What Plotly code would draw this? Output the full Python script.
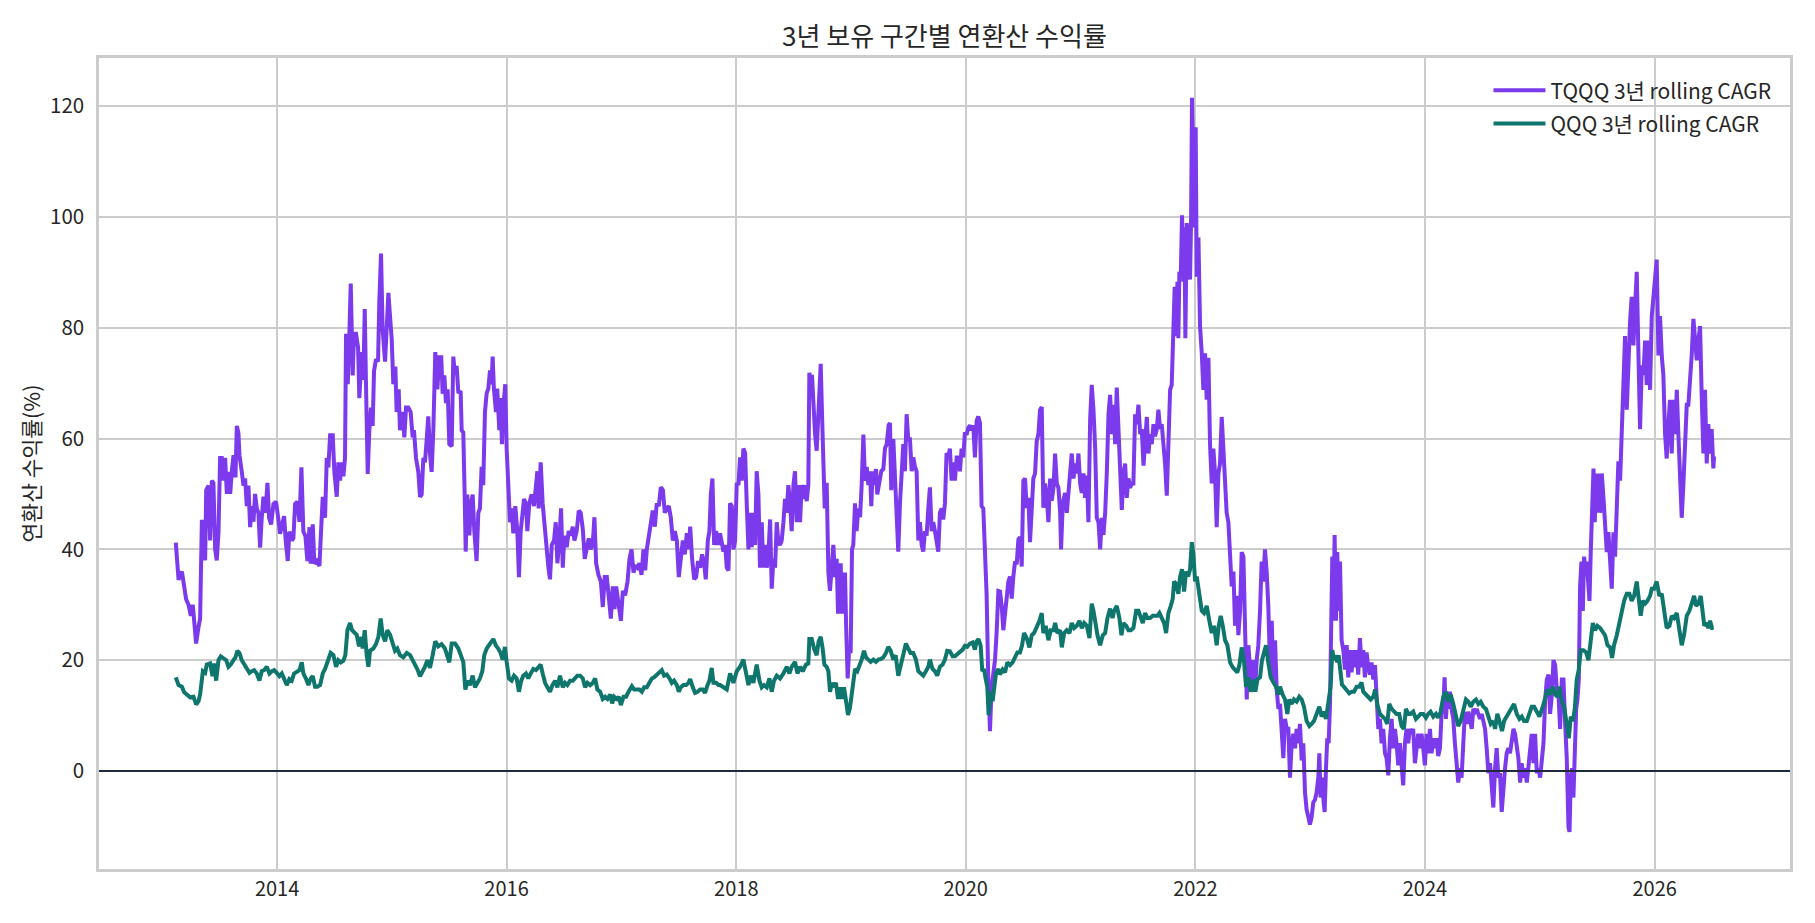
import pandas as pd
import plotly.graph_objects as go

# ---------------- data ----------------
# decimal-year positions and 3-year rolling CAGR (%) values
TQQQ_YEARS = [
    # 2013 - mid 2015
    2013.117, 2013.126, 2013.141, 2013.170, 2013.184, 2013.207, 2013.228, 2013.248, 2013.265, 2013.280,
    2013.294, 2013.315, 2013.329, 2013.344, 2013.358, 2013.373, 2013.382, 2013.402, 2013.416, 2013.431,
    2013.445, 2013.460, 2013.474, 2013.489, 2013.503, 2013.518, 2013.533, 2013.547, 2013.562, 2013.576,
    2013.591, 2013.605, 2013.620, 2013.637, 2013.649, 2013.663, 2013.672, 2013.692, 2013.707, 2013.721,
    2013.736, 2013.750, 2013.765, 2013.779, 2013.794, 2013.808, 2013.823, 2013.837, 2013.852, 2013.866,
    2013.881, 2013.898, 2013.916, 2013.930, 2013.948, 2013.968, 2013.991, 2014.012, 2014.026, 2014.044,
    2014.061, 2014.075, 2014.093, 2014.107, 2014.128, 2014.142, 2014.157, 2014.177, 2014.195, 2014.212,
    2014.229, 2014.247, 2014.264, 2014.282, 2014.293, 2014.311, 2014.325, 2014.346, 2014.369, 2014.383,
    2014.398, 2014.418, 2014.433, 2014.447, 2014.462, 2014.485, 2014.499, 2014.520, 2014.534, 2014.549,
    2014.563, 2014.578, 2014.592, 2014.601, 2014.616, 2014.630, 2014.642, 2014.659, 2014.671, 2014.688,
    2014.706, 2014.717, 2014.738, 2014.752, 2014.764, 2014.775, 2014.790, 2014.804, 2014.819, 2014.833,
    2014.845, 2014.862, 2014.880, 2014.891, 2014.906, 2014.920, 2014.941, 2014.955, 2014.970, 2014.984,
    2014.999, 2015.013, 2015.031, 2015.042, 2015.060, 2015.071, 2015.095, 2015.109, 2015.124, 2015.144,
    2015.164, 2015.182, 2015.193, 2015.211, 2015.231, 2015.246, 2015.260, 2015.275, 2015.289, 2015.304,
    2015.318, 2015.333, 2015.347, 2015.362, 2015.379, 2015.397, 2015.414, 2015.431, 2015.443, 2015.458,
    2015.472, 2015.487, 2015.501,
    # mid 2015 - end 2017
    2015.522, 2015.536, 2015.551, 2015.565, 2015.580, 2015.600, 2015.609, 2015.623, 2015.635, 2015.644,
    2015.658, 2015.676, 2015.690, 2015.705, 2015.719, 2015.739, 2015.754, 2015.768, 2015.783, 2015.797,
    2015.812, 2015.827, 2015.841, 2015.856, 2015.870, 2015.879, 2015.890, 2015.908, 2015.919, 2015.937,
    2015.948, 2015.960, 2015.972, 2015.989, 2016.001, 2016.015, 2016.030, 2016.044, 2016.059, 2016.076,
    2016.094, 2016.108, 2016.123, 2016.140, 2016.152, 2016.169, 2016.181, 2016.198, 2016.218, 2016.239,
    2016.253, 2016.268, 2016.279, 2016.297, 2016.314, 2016.335, 2016.349, 2016.364, 2016.378, 2016.393,
    2016.413, 2016.428, 2016.442, 2016.459, 2016.474, 2016.489, 2016.503, 2016.523, 2016.541, 2016.558,
    2016.576, 2016.590, 2016.610, 2016.628, 2016.645, 2016.663, 2016.680, 2016.698, 2016.715, 2016.732,
    2016.750, 2016.764, 2016.779, 2016.799, 2016.820, 2016.837, 2016.854, 2016.872, 2016.889, 2016.907,
    2016.924, 2016.939, 2016.953, 2016.973, 2016.994, 2017.011, 2017.031, 2017.052, 2017.069, 2017.087,
    2017.104, 2017.122, 2017.139, 2017.156, 2017.174, 2017.191, 2017.206, 2017.220, 2017.238, 2017.255,
    2017.272, 2017.290, 2017.307, 2017.325, 2017.342, 2017.360, 2017.377, 2017.394, 2017.412, 2017.429,
    2017.447, 2017.464, 2017.482, 2017.499, 2017.516, 2017.534, 2017.551, 2017.569, 2017.586, 2017.598,
    2017.615, 2017.633, 2017.650, 2017.667, 2017.685, 2017.702, 2017.720, 2017.734, 2017.752, 2017.766,
    2017.778, 2017.792, 2017.807, 2017.824, 2017.842,
    # end 2017 - Q1 2020
    2017.859, 2017.888, 2017.903, 2017.917, 2017.932, 2017.946, 2017.961, 2017.975, 2017.990, 2018.004,
    2018.019, 2018.033, 2018.048, 2018.062, 2018.077, 2018.091, 2018.106, 2018.120, 2018.135, 2018.149,
    2018.164, 2018.178, 2018.193, 2018.207, 2018.222, 2018.236, 2018.251, 2018.266, 2018.280, 2018.295,
    2018.309, 2018.324, 2018.338, 2018.353, 2018.367, 2018.382, 2018.396, 2018.411, 2018.425, 2018.440,
    2018.454, 2018.469, 2018.483, 2018.498, 2018.512, 2018.527, 2018.541, 2018.556, 2018.570, 2018.585,
    2018.599, 2018.614, 2018.628, 2018.637, 2018.649, 2018.660, 2018.672, 2018.687, 2018.701, 2018.713,
    2018.724, 2018.736, 2018.747, 2018.759, 2018.771, 2018.788, 2018.803, 2018.817, 2018.832, 2018.846,
    2018.861, 2018.875, 2018.887, 2018.898, 2018.910, 2018.922, 2018.933, 2018.948, 2018.957, 2018.971,
    2018.983, 2018.997, 2019.009, 2019.020, 2019.035, 2019.049, 2019.064, 2019.079, 2019.093, 2019.108,
    2019.122, 2019.137, 2019.151, 2019.166, 2019.177, 2019.189, 2019.203, 2019.218, 2019.229, 2019.247,
    2019.264, 2019.282, 2019.296, 2019.311, 2019.328, 2019.340, 2019.351, 2019.369, 2019.383, 2019.398,
    2019.412, 2019.427, 2019.441, 2019.456, 2019.470, 2019.485, 2019.499, 2019.514, 2019.529, 2019.543,
    2019.558, 2019.572, 2019.587, 2019.601, 2019.616, 2019.630, 2019.645, 2019.659, 2019.674, 2019.688,
    2019.703, 2019.717, 2019.732, 2019.746, 2019.761, 2019.775, 2019.790, 2019.804, 2019.819, 2019.833,
    2019.848, 2019.862, 2019.877, 2019.892, 2019.906, 2019.921, 2019.935, 2019.950, 2019.964, 2019.979,
    2019.993, 2020.008, 2020.022, 2020.037, 2020.051, 2020.066, 2020.080, 2020.095, 2020.109, 2020.124,
    2020.138, 2020.153, 2020.167, 2020.182, 2020.196, 2020.211, 2020.225, 2020.240, 2020.255, 2020.269,
    2020.284,
    # Q2 2020 - Q3 2022
    2020.298, 2020.313, 2020.327, 2020.342, 2020.356, 2020.371, 2020.385, 2020.400, 2020.414, 2020.429,
    2020.443, 2020.458, 2020.472, 2020.487, 2020.501, 2020.516, 2020.530, 2020.545, 2020.559, 2020.574,
    2020.588, 2020.603, 2020.617, 2020.632, 2020.646, 2020.661, 2020.675, 2020.690, 2020.705, 2020.719,
    2020.734, 2020.748, 2020.763, 2020.777, 2020.792, 2020.806, 2020.821, 2020.829, 2020.844, 2020.864,
    2020.879, 2020.893, 2020.908, 2020.922, 2020.937, 2020.951, 2020.966, 2020.980, 2020.995, 2021.009,
    2021.024, 2021.038, 2021.053, 2021.067, 2021.082, 2021.096, 2021.111, 2021.126, 2021.140, 2021.155,
    2021.169, 2021.184, 2021.198, 2021.213, 2021.227, 2021.242, 2021.256, 2021.271, 2021.285, 2021.300,
    2021.314, 2021.329, 2021.343, 2021.358, 2021.372, 2021.387, 2021.401, 2021.416, 2021.430, 2021.445,
    2021.459, 2021.474, 2021.488, 2021.503, 2021.518, 2021.532, 2021.547, 2021.561, 2021.576, 2021.590,
    2021.605, 2021.619, 2021.634, 2021.648, 2021.663, 2021.677, 2021.692, 2021.706, 2021.721, 2021.735,
    2021.750, 2021.764, 2021.779, 2021.793, 2021.808, 2021.819, 2021.831, 2021.843, 2021.851, 2021.860,
    2021.872, 2021.883, 2021.895, 2021.904, 2021.912, 2021.924, 2021.939, 2021.953, 2021.962, 2021.970,
    2021.982, 2021.994, 2022.002, 2022.011, 2022.026, 2022.040, 2022.055, 2022.069, 2022.084, 2022.098,
    2022.113, 2022.127, 2022.142, 2022.156, 2022.171, 2022.185, 2022.200, 2022.214, 2022.229, 2022.243,
    2022.258, 2022.272, 2022.287, 2022.302, 2022.316, 2022.331, 2022.345, 2022.360, 2022.374, 2022.389,
    2022.403, 2022.418, 2022.432, 2022.447, 2022.461, 2022.476, 2022.490, 2022.505, 2022.519, 2022.534,
    2022.548, 2022.563, 2022.577, 2022.592, 2022.606, 2022.621, 2022.635, 2022.650, 2022.665, 2022.679,
    2022.694, 2022.708, 2022.723,
    # Q4 2022 - end 2024
    2022.737, 2022.766, 2022.781, 2022.795, 2022.810, 2022.824, 2022.839, 2022.853, 2022.868, 2022.882,
    2022.897, 2022.911, 2022.926, 2022.940, 2022.955, 2022.969, 2022.984, 2022.998, 2023.013, 2023.027,
    2023.042, 2023.056, 2023.071, 2023.080, 2023.091, 2023.103, 2023.114, 2023.126, 2023.138, 2023.149,
    2023.161, 2023.173, 2023.184, 2023.193, 2023.202, 2023.213, 2023.225, 2023.236, 2023.248, 2023.260,
    2023.274, 2023.289, 2023.303, 2023.318, 2023.332, 2023.347, 2023.361, 2023.376, 2023.390, 2023.405,
    2023.419, 2023.434, 2023.448, 2023.463, 2023.477, 2023.492, 2023.506, 2023.521, 2023.535, 2023.550,
    2023.565, 2023.579, 2023.594, 2023.608, 2023.623, 2023.637, 2023.652, 2023.666, 2023.681, 2023.695,
    2023.710, 2023.724, 2023.739, 2023.753, 2023.768, 2023.782, 2023.797, 2023.811, 2023.826, 2023.840,
    2023.855, 2023.869, 2023.884, 2023.898, 2023.913, 2023.927, 2023.942, 2023.957, 2023.971, 2023.986,
    2024.000, 2024.015, 2024.029, 2024.044, 2024.058, 2024.073, 2024.087, 2024.102, 2024.116, 2024.131,
    2024.145, 2024.160, 2024.171, 2024.183, 2024.195, 2024.206, 2024.218, 2024.232, 2024.247, 2024.261,
    2024.276, 2024.290, 2024.305, 2024.319, 2024.334, 2024.348, 2024.363, 2024.378, 2024.392, 2024.407,
    2024.421, 2024.436, 2024.450, 2024.465, 2024.479, 2024.494, 2024.508, 2024.523, 2024.537, 2024.552,
    2024.566, 2024.581, 2024.595, 2024.610, 2024.624, 2024.639, 2024.653, 2024.668, 2024.682, 2024.697,
    2024.711, 2024.726, 2024.740, 2024.755, 2024.770, 2024.784, 2024.799, 2024.813, 2024.828, 2024.842,
    2024.857, 2024.871, 2024.886, 2024.900, 2024.915, 2024.929, 2024.944, 2024.958, 2024.973, 2024.987,
    2025.002,
    # 2025 - 2026
    2025.017, 2025.031, 2025.046, 2025.060, 2025.075, 2025.089, 2025.104, 2025.118, 2025.133, 2025.147,
    2025.162, 2025.176, 2025.191, 2025.205, 2025.220, 2025.234, 2025.249, 2025.258, 2025.269, 2025.281,
    2025.292, 2025.304, 2025.316, 2025.327, 2025.339, 2025.350, 2025.362, 2025.374, 2025.385, 2025.397,
    2025.409, 2025.420, 2025.432, 2025.443, 2025.455, 2025.467, 2025.478, 2025.490, 2025.501, 2025.513,
    2025.525, 2025.539, 2025.554, 2025.568, 2025.583, 2025.597, 2025.612, 2025.626, 2025.641, 2025.655,
    2025.670, 2025.684, 2025.699, 2025.713, 2025.728, 2025.742, 2025.757, 2025.771, 2025.786, 2025.800,
    2025.815, 2025.830, 2025.844, 2025.859, 2025.873, 2025.888, 2025.902, 2025.917, 2025.931, 2025.946,
    2025.960, 2025.975, 2025.989, 2026.004, 2026.018, 2026.033, 2026.047, 2026.062, 2026.076, 2026.091,
    2026.105, 2026.120, 2026.134, 2026.149, 2026.163, 2026.178, 2026.193, 2026.207, 2026.222, 2026.236,
    2026.251, 2026.265, 2026.280, 2026.294, 2026.309, 2026.323, 2026.338, 2026.352, 2026.367, 2026.381,
    2026.396, 2026.410, 2026.425, 2026.439, 2026.454, 2026.468, 2026.483, 2026.497, 2026.512, 2026.518,
]

TQQQ_CAGR = [
    41.2, 39.0, 34.5, 36.0, 34.0, 31.0, 30.0, 28.0, 30.0, 26.7,
    23.0, 26.0, 27.5, 45.0, 45.0, 38.0, 50.7, 51.5, 41.6, 52.4,
    52.0, 40.0, 38.0, 43.0, 56.5, 56.5, 52.4, 56.5, 50.0, 54.0,
    50.0, 54.0, 57.0, 53.0, 62.3, 61.0, 57.0, 54.0, 51.5, 52.8,
    47.8, 51.5, 44.0, 47.8, 45.0, 50.0, 47.4, 46.6, 40.3, 45.7,
    49.5, 46.6, 52.0, 45.7, 44.5, 48.2, 48.6, 45.3, 42.8, 44.5,
    46.0, 41.6, 37.9, 43.2, 41.6, 42.0, 48.2, 48.6, 45.0, 54.8,
    43.2, 42.4, 37.9, 44.0, 37.4, 44.5, 37.4, 37.9, 37.0, 43.2,
    49.5, 45.7, 56.5, 54.8, 60.6, 60.6, 54.0, 49.5, 55.7, 52.4,
    55.7, 53.2, 56.5, 78.9, 69.8, 78.9, 88.0, 71.4, 78.9, 78.9,
    76.4, 67.3, 75.6, 70.6, 83.4, 69.8, 53.6, 61.5, 65.6, 62.3,
    72.2, 74.3, 73.9, 84.7, 93.4, 79.7, 73.9, 79.7, 86.3, 82.2,
    78.0, 69.8, 73.0, 64.8, 68.9, 61.5, 64.8, 60.2, 65.6, 65.6,
    64.8, 60.2, 61.5, 56.5, 54.0, 49.5, 49.9, 56.5, 55.7, 59.8,
    64.0, 57.3, 54.0, 61.5, 75.6, 68.9, 74.7, 74.7, 68.1, 71.4,
    66.4, 68.9, 59.0,
    58.6, 74.8, 71.5, 73.1, 68.2, 68.6, 61.5, 61.1, 49.9, 39.6,
    49.9, 42.5, 48.3, 49.9, 43.3, 37.9, 46.6, 47.4, 54.9, 51.6,
    64.8, 68.2, 69.0, 72.3, 69.8, 74.8, 69.0, 64.8, 69.0, 61.5,
    67.3, 59.0, 65.7, 69.8, 58.2, 49.9, 44.9, 47.4, 42.9, 47.8,
    43.3, 35.0, 43.3, 46.6, 49.1, 48.3, 43.3, 48.3, 49.9, 47.8,
    51.6, 54.1, 47.4, 55.7, 48.3, 43.3, 39.1, 36.7, 34.6, 40.8,
    41.6, 44.9, 37.5, 41.6, 47.4, 36.7, 42.5, 40.4, 43.3, 42.5,
    44.1, 41.6, 43.3, 47.0, 46.6, 43.7, 38.3, 40.8, 42.0, 40.0,
    41.2, 45.8, 37.5, 35.4, 34.2, 29.6, 35.0, 35.0, 31.7, 27.5,
    33.3, 29.2, 33.3, 30.8, 27.1, 32.5, 31.7, 34.2, 38.3, 40.0,
    35.8, 37.1, 36.7, 37.5, 35.4, 40.0, 36.2, 40.0, 42.9, 44.9,
    47.0, 44.1, 48.3, 47.8, 51.2, 50.7, 46.6, 47.4, 47.8, 45.8,
    41.6, 43.3, 41.6, 35.0, 37.9, 41.6, 39.1, 42.9, 40.0, 44.1,
    38.3, 34.6, 35.0, 37.9, 36.7, 39.1, 37.5, 34.6, 41.6, 43.3,
    49.9, 52.8, 40.8, 43.3, 40.8,
    42.9, 39.6, 40.8, 36.7, 36.2, 48.3, 47.8, 40.0, 41.6, 52.0,
    51.6, 56.6, 52.4, 58.2, 57.4, 48.3, 40.0, 46.6, 40.4, 46.6,
    40.8, 54.1, 49.9, 36.7, 44.9, 36.7, 40.8, 36.7, 39.1, 45.4,
    32.9, 38.3, 36.7, 44.9, 41.2, 40.8, 41.6, 44.9, 49.1, 46.6,
    51.6, 48.3, 43.3, 51.6, 54.1, 44.9, 51.6, 44.9, 51.6, 49.1,
    51.6, 48.7, 51.6, 71.9, 69.8, 71.5, 64.8, 60.7, 57.8, 64.0,
    66.5, 73.5, 64.8, 58.2, 47.4, 52.0, 35.8, 32.5, 35.8, 40.8,
    35.0, 38.3, 28.4, 32.5, 37.5, 28.4, 32.5, 35.8, 26.7, 16.7,
    21.7, 21.3, 40.0, 40.8, 48.3, 43.3, 47.4, 45.8, 51.6, 60.7,
    52.4, 54.9, 51.6, 54.1, 47.8, 54.1, 51.6, 54.5, 49.9, 52.4,
    54.1, 54.5, 58.2, 59.0, 62.4, 62.8, 50.7, 59.9, 53.3, 44.1,
    39.6, 48.3, 53.3, 59.0, 54.1, 64.4, 59.9, 59.9, 54.1, 56.6,
    54.9, 54.1, 41.6, 44.9, 40.8, 39.6, 43.3, 42.5, 47.4, 51.2,
    43.3, 44.9, 43.3, 40.8, 39.6, 46.6, 47.4, 45.4, 48.3, 57.4,
    56.6, 58.2, 52.4, 55.7, 52.4, 56.6, 56.6, 54.1, 58.2, 56.6,
    61.1, 60.7, 61.9, 62.4, 61.5, 62.4, 56.6, 63.2, 64.0, 62.8,
    47.8, 47.4, 40.0, 31.7, 16.7, 7.2, 15.1, 18.4, 20.1, 25.1,
    32.5,
    32.4, 29.8, 25.4, 28.9, 31.6, 34.2, 35.1, 31.1, 35.1, 37.8,
    37.3, 41.8, 42.2, 36.9, 52.4, 52.8, 47.5, 49.3, 41.3, 48.4,
    52.8, 53.7, 59.5, 60.8, 65.2, 65.7, 47.5, 51.9, 49.3, 44.9,
    52.8, 48.8, 51.1, 57.3, 51.9, 51.1, 46.6, 40.0, 48.4, 50.2,
    46.6, 50.2, 54.6, 57.3, 52.8, 55.5, 53.7, 57.3, 51.9, 50.2,
    53.7, 49.3, 53.3, 44.9, 63.5, 69.7, 65.2, 58.2, 45.7, 44.9,
    40.0, 45.7, 42.6, 46.6, 53.7, 64.4, 67.9, 60.8, 66.1, 59.0,
    69.2, 60.8, 51.9, 47.1, 53.7, 55.5, 49.3, 52.8, 51.1, 51.9,
    51.9, 64.4, 62.6, 66.1, 60.8, 61.7, 55.1, 60.8, 63.9, 57.3,
    60.8, 59.0, 62.6, 60.4, 61.7, 65.2, 61.7, 62.6, 59.0, 55.5,
    49.7, 62.6, 68.8, 69.7, 81.2, 87.4, 78.5, 88.3, 78.1, 90.1,
    89.2, 100.3, 88.3, 98.1, 78.1, 98.9, 95.4, 88.7, 99.8, 121.5,
    108.7, 98.1, 116.2, 89.2, 96.3, 80.3, 75.4, 68.8, 75.4, 67.0,
    74.6, 59.0, 51.9, 58.2, 53.7, 44.0, 53.7, 55.5, 63.9, 59.0,
    53.7, 46.6, 44.9, 36.9, 33.3, 36.0, 26.2, 31.6, 24.5, 28.9,
    39.5, 38.7, 22.7, 12.9, 22.7, 17.8, 14.7, 20.0, 14.3, 20.0,
    22.7, 28.9, 37.8, 34.2, 40.0, 36.0, 29.8, 19.1, 27.1, 16.5,
    23.6, 14.7, 11.2,
    12.1, 2.3, 9.4, 7.6, 7.6, -1.2, 5.0, 6.7, 4.1, 7.6,
    5.0, 8.5, 1.9, 5.0, -3.9, -7.0, -8.3, -9.7, -8.3, -5.7,
    -5.2, -3.9, -1.2, 3.2, -4.8, -1.2, -4.8, -7.4, 0.5, 5.9,
    5.0, 12.1, 27.1, 38.7, 27.1, 42.6, 27.1, 39.5, 28.9, 37.8,
    23.6, 21.8, 18.3, 22.7, 16.9, 21.8, 17.8, 21.8, 18.7, 21.8,
    17.4, 24.0, 18.7, 21.8, 16.9, 21.4, 18.7, 17.4, 19.6, 16.5,
    19.1, 14.7, 7.6, 9.4, 5.0, 7.6, 3.2, 2.3, -0.8, 5.9,
    9.4, 4.1, 7.6, 5.0, 1.0, 5.0, 0.5, -2.6, 5.0, 7.6,
    5.0, 7.6, 6.7, 7.6, 1.4, 5.0, 6.7, 4.1, 6.7, 4.1,
    1.0, 6.7, 3.2, 7.6, 3.2, 5.9, 4.1, 5.9, 2.7, 4.1,
    10.3, 11.2, 16.9, 9.4, 13.8, 11.2, 14.3, 11.2, 9.4, 5.0,
    0.5, -2.1, 0.5, -1.2, 5.0, 10.7, 8.5, 10.7, 9.4, 7.6,
    11.2, 10.7, 11.2, 10.3, 9.4, 10.3, 8.5, 7.6, 4.1, -0.4,
    1.4, -3.0, -6.6, 0.5, 4.1, -1.2, -0.4, -7.4, -3.0, 0.5,
    3.2, 4.1, 3.2, 5.9, 7.6, 6.7, 4.1, 2.3, -2.1, 1.4,
    -1.2, 0.5, -2.1, 1.4, 5.0, 6.7, 1.4, 6.7, -0.4, 0.5,
    -1.2,
    2.3, 5.0, 12.9, 16.5, 17.4, 10.3, 13.8, 20.0, 19.1, 14.7,
    13.8, 7.6, 16.5, 16.5, 8.5, 2.3, -10.1, -11.0, -1.2, 0.5,
    -4.8, 5.9, 11.2, 12.9, 16.5, 33.3, 37.8, 28.9, 38.7, 36.0,
    37.8, 34.2, 30.7, 39.5, 49.3, 54.6, 44.9, 53.7, 46.6, 53.7,
    46.6, 53.7, 49.3, 44.9, 39.5, 43.1, 38.7, 32.9, 43.1, 38.7,
    47.5, 55.9, 52.4, 63.0, 73.2, 78.5, 65.2, 75.9, 81.2, 85.6,
    76.8, 83.9, 90.1, 75.0, 61.7, 73.2, 71.5, 77.7, 69.7, 77.7,
    68.8, 82.1, 85.6, 88.3, 92.3, 75.0, 82.1, 75.0, 71.5, 60.8,
    56.4, 62.6, 67.0, 57.3, 67.0, 60.8, 68.8, 60.8, 54.6, 45.7,
    51.9, 58.2, 66.1, 66.1, 69.7, 75.0, 81.6, 78.5, 74.1, 77.7,
    80.3, 67.9, 57.3, 68.8, 55.5, 62.6, 57.3, 61.7, 54.6, 56.8,
]

QQQ_YEARS = [
    2013.117, 2013.141, 2013.170, 2013.190, 2013.213, 2013.242, 2013.271, 2013.294, 2013.315, 2013.329,
    2013.353, 2013.373, 2013.387, 2013.416, 2013.437, 2013.451, 2013.469, 2013.489, 2013.509, 2013.533,
    2013.556, 2013.576, 2013.596, 2013.620, 2013.637, 2013.654, 2013.672, 2013.692, 2013.713, 2013.736,
    2013.759, 2013.779, 2013.800, 2013.823, 2013.846, 2013.866, 2013.887, 2013.910, 2013.933, 2013.954,
    2013.974, 2013.997, 2014.020, 2014.041, 2014.061, 2014.084, 2014.107, 2014.128, 2014.148, 2014.171,
    2014.195, 2014.215, 2014.229, 2014.253, 2014.273, 2014.293, 2014.311, 2014.331, 2014.351, 2014.375,
    2014.398, 2014.418, 2014.447, 2014.467, 2014.491, 2014.514, 2014.534, 2014.555, 2014.578, 2014.595,
    2014.613, 2014.636, 2014.653, 2014.671, 2014.694, 2014.714, 2014.735, 2014.746, 2014.764, 2014.781,
    2014.796, 2014.810, 2014.839, 2014.862, 2014.883, 2014.903, 2014.920, 2014.941, 2014.961, 2014.984,
    2015.008, 2015.028, 2015.048, 2015.071, 2015.100, 2015.130, 2015.159, 2015.182, 2015.202, 2015.222,
    2015.246, 2015.269, 2015.289, 2015.310, 2015.333, 2015.356, 2015.379, 2015.405, 2015.434, 2015.463,
    2015.501,
    2015.522, 2015.551, 2015.580, 2015.600, 2015.623, 2015.641, 2015.661, 2015.681, 2015.705, 2015.725,
    2015.745, 2015.768, 2015.789, 2015.806, 2015.827, 2015.850, 2015.870, 2015.885, 2015.908, 2015.928,
    2015.948, 2015.966, 2015.986, 2016.001, 2016.021, 2016.044, 2016.065, 2016.088, 2016.108, 2016.128,
    2016.146, 2016.169, 2016.189, 2016.210, 2016.233, 2016.256, 2016.277, 2016.297, 2016.314, 2016.335,
    2016.355, 2016.378, 2016.399, 2016.422, 2016.442, 2016.465, 2016.489, 2016.509, 2016.529, 2016.552,
    2016.576, 2016.596, 2016.616, 2016.640, 2016.663, 2016.683, 2016.703, 2016.727, 2016.750, 2016.770,
    2016.790, 2016.814, 2016.837, 2016.857, 2016.878, 2016.901, 2016.918, 2016.936, 2016.959, 2016.976,
    2016.994, 2017.017, 2017.040, 2017.061, 2017.090, 2017.110, 2017.133, 2017.156, 2017.177, 2017.197,
    2017.220, 2017.243, 2017.264, 2017.284, 2017.307, 2017.331, 2017.351, 2017.371, 2017.394, 2017.418,
    2017.438, 2017.458, 2017.482, 2017.499, 2017.516, 2017.540, 2017.563, 2017.583, 2017.598, 2017.621,
    2017.641, 2017.662, 2017.685, 2017.708, 2017.728, 2017.749, 2017.766, 2017.786, 2017.801, 2017.824,
    2017.845,
    2017.859, 2017.888, 2017.917, 2017.946, 2017.975, 2018.004, 2018.033, 2018.062, 2018.085, 2018.106,
    2018.126, 2018.149, 2018.178, 2018.202, 2018.222, 2018.242, 2018.266, 2018.289, 2018.309, 2018.329,
    2018.353, 2018.382, 2018.411, 2018.440, 2018.463, 2018.483, 2018.512, 2018.533, 2018.556, 2018.579,
    2018.608, 2018.628, 2018.637, 2018.658, 2018.678, 2018.701, 2018.718, 2018.736, 2018.753, 2018.768,
    2018.788, 2018.803, 2018.817, 2018.835, 2018.852, 2018.869, 2018.887, 2018.904, 2018.922, 2018.939,
    2018.957, 2018.974, 2018.991, 2019.006, 2019.020, 2019.035, 2019.055, 2019.079, 2019.093, 2019.113,
    2019.131, 2019.151, 2019.171, 2019.195, 2019.218, 2019.238, 2019.259, 2019.282, 2019.305, 2019.325,
    2019.346, 2019.369, 2019.389, 2019.412, 2019.433, 2019.456, 2019.479, 2019.499, 2019.520, 2019.543,
    2019.566, 2019.587, 2019.607, 2019.630, 2019.653, 2019.674, 2019.688, 2019.711, 2019.732, 2019.752,
    2019.775, 2019.799, 2019.819, 2019.839, 2019.862, 2019.886, 2019.906, 2019.926, 2019.950, 2019.973,
    2019.993, 2020.013, 2020.037, 2020.060, 2020.080, 2020.095, 2020.112, 2020.130, 2020.144, 2020.159,
    2020.173, 2020.188, 2020.199, 2020.217, 2020.234, 2020.249, 2020.263, 2020.284,
    2020.298, 2020.321, 2020.342, 2020.362, 2020.385, 2020.408, 2020.429, 2020.449, 2020.472, 2020.490,
    2020.507, 2020.530, 2020.554, 2020.574, 2020.594, 2020.617, 2020.641, 2020.661, 2020.675, 2020.696,
    2020.719, 2020.739, 2020.763, 2020.777, 2020.797, 2020.821, 2020.835, 2020.856, 2020.879, 2020.902,
    2020.922, 2020.943, 2020.966, 2020.989, 2021.009, 2021.030, 2021.053, 2021.076, 2021.096, 2021.111,
    2021.126, 2021.146, 2021.169, 2021.192, 2021.213, 2021.233, 2021.256, 2021.277, 2021.291, 2021.314,
    2021.337, 2021.355, 2021.372, 2021.396, 2021.416, 2021.436, 2021.459, 2021.483, 2021.503, 2021.523,
    2021.541, 2021.561, 2021.581, 2021.605, 2021.628, 2021.648, 2021.669, 2021.686, 2021.706, 2021.727,
    2021.744, 2021.764, 2021.785, 2021.802, 2021.814, 2021.831, 2021.851, 2021.866, 2021.883, 2021.901,
    2021.918, 2021.936, 2021.953, 2021.968, 2021.982, 2021.997, 2022.011, 2022.026, 2022.040, 2022.055,
    2022.075, 2022.098, 2022.121, 2022.142, 2022.162, 2022.185, 2022.203, 2022.220, 2022.238, 2022.258,
    2022.278, 2022.302, 2022.325, 2022.345, 2022.365, 2022.383, 2022.403, 2022.424, 2022.441, 2022.461,
    2022.482, 2022.505, 2022.522, 2022.540, 2022.563, 2022.580, 2022.598, 2022.615, 2022.635, 2022.656,
    2022.679, 2022.702, 2022.723,
    2022.737, 2022.760, 2022.781, 2022.801, 2022.818, 2022.839, 2022.859, 2022.882, 2022.905, 2022.926,
    2022.946, 2022.969, 2022.993, 2023.013, 2023.033, 2023.056, 2023.080, 2023.100, 2023.120, 2023.138,
    2023.158, 2023.178, 2023.193, 2023.207, 2023.222, 2023.236, 2023.248, 2023.260, 2023.277, 2023.294,
    2023.318, 2023.341, 2023.361, 2023.382, 2023.405, 2023.428, 2023.448, 2023.463, 2023.486, 2023.506,
    2023.527, 2023.550, 2023.567, 2023.585, 2023.608, 2023.631, 2023.652, 2023.672, 2023.689, 2023.710,
    2023.730, 2023.753, 2023.776, 2023.797, 2023.817, 2023.835, 2023.855, 2023.875, 2023.898, 2023.922,
    2023.942, 2023.962, 2023.986, 2024.009, 2024.029, 2024.049, 2024.073, 2024.096, 2024.116, 2024.137,
    2024.160, 2024.183, 2024.203, 2024.224, 2024.247, 2024.270, 2024.290, 2024.311, 2024.334, 2024.357,
    2024.378, 2024.398, 2024.421, 2024.444, 2024.465, 2024.485, 2024.508, 2024.531, 2024.552, 2024.572,
    2024.595, 2024.610, 2024.630, 2024.653, 2024.671, 2024.688, 2024.711, 2024.735, 2024.755, 2024.775,
    2024.799, 2024.822, 2024.842, 2024.862, 2024.886, 2024.909, 2024.929, 2024.950, 2024.973, 2024.996,
    2025.025, 2025.046, 2025.066, 2025.089, 2025.112, 2025.133, 2025.153, 2025.170, 2025.191, 2025.211,
    2025.234, 2025.252, 2025.269, 2025.287, 2025.304, 2025.321, 2025.339, 2025.356, 2025.379, 2025.403,
    2025.423, 2025.443, 2025.461, 2025.481, 2025.501, 2025.525, 2025.548, 2025.568, 2025.589, 2025.612,
    2025.629, 2025.646, 2025.670, 2025.693, 2025.713, 2025.734, 2025.757, 2025.780, 2025.800, 2025.821,
    2025.844, 2025.861, 2025.879, 2025.896, 2025.917, 2025.937, 2025.960, 2025.975, 2025.995, 2026.018,
    2026.041, 2026.062, 2026.082, 2026.105, 2026.129, 2026.149, 2026.169, 2026.193, 2026.216, 2026.236,
    2026.256, 2026.280, 2026.303, 2026.323, 2026.344, 2026.361, 2026.381, 2026.402, 2026.419, 2026.433,
    2026.454, 2026.468, 2026.483, 2026.500, 2026.515,
]

QQQ_CAGR = [
    16.9, 15.5, 15.2, 14.2, 13.8, 13.3, 13.4, 12.0, 12.6, 13.8,
    18.0, 17.7, 19.2, 19.4, 17.1, 19.4, 16.3, 20.0, 20.7, 20.3,
    20.0, 18.8, 19.2, 20.0, 20.5, 21.7, 21.3, 20.0, 19.2, 18.4,
    17.7, 18.0, 18.2, 17.6, 16.3, 18.0, 18.2, 18.8, 17.6, 18.0,
    18.2, 17.7, 17.1, 17.6, 16.7, 15.5, 16.6, 16.3, 17.6, 18.0,
    18.2, 19.6, 17.6, 16.6, 15.5, 16.7, 17.1, 15.2, 15.2, 15.5,
    17.6, 18.4, 20.5, 21.3, 20.9, 18.8, 20.0, 19.6, 19.9, 20.9,
    25.4, 26.7, 25.4, 25.0, 24.6, 22.5, 24.2, 22.1, 25.4, 20.9,
    18.8, 21.7, 22.1, 22.9, 24.2, 27.5, 24.6, 23.4, 25.4, 24.6,
    22.9, 21.7, 22.1, 20.9, 20.5, 21.3, 20.9, 20.0, 19.2, 18.4,
    17.1, 18.0, 18.8, 20.0, 18.6, 20.9, 23.4, 22.5, 22.9, 22.1,
    19.6,
    23.0, 23.0, 22.1, 20.9, 19.7, 14.7, 16.3, 15.5, 17.2, 15.1,
    15.9, 16.7, 18.0, 20.9, 22.1, 23.0, 23.4, 23.8, 22.6, 22.1,
    21.3, 20.1, 22.4, 19.7, 16.7, 16.3, 17.2, 16.7, 14.3, 16.3,
    17.2, 17.6, 16.7, 17.6, 18.4, 18.2, 18.8, 19.2, 17.6, 15.9,
    15.1, 14.3, 15.5, 16.3, 15.1, 17.2, 15.1, 15.9, 15.5, 16.3,
    16.3, 16.7, 17.2, 17.2, 16.7, 15.1, 15.9, 15.5, 15.9, 16.7,
    14.7, 14.3, 13.0, 13.4, 13.0, 13.8, 12.2, 13.4, 13.0, 13.4,
    11.9, 13.4, 13.4, 14.3, 15.3, 14.7, 14.7, 14.7, 14.3, 15.1,
    15.1, 15.9, 16.7, 16.9, 17.4, 17.7, 18.2, 17.2, 17.4, 16.7,
    15.9, 16.3, 15.5, 14.3, 15.1, 15.5, 15.5, 15.9, 16.6, 15.1,
    14.1, 14.3, 14.7, 14.7, 14.1, 15.5, 16.3, 18.6, 15.9, 15.9,
    15.5,
    15.5, 15.1, 14.7, 17.6, 15.9, 18.0, 18.8, 20.1, 17.6, 15.5,
    17.2, 15.9, 19.2, 16.3, 15.1, 15.5, 15.1, 16.7, 14.3, 16.3,
    17.2, 16.7, 17.6, 18.8, 17.6, 18.8, 19.7, 17.6, 18.8, 18.0,
    19.2, 19.4, 23.8, 23.8, 22.1, 20.9, 23.4, 24.2, 22.1, 19.2,
    18.8, 18.0, 14.3, 15.9, 15.1, 15.9, 13.0, 15.1, 13.0, 15.1,
    12.6, 10.1, 11.4, 14.3, 16.7, 18.4, 18.0, 19.2, 20.1, 21.7,
    20.5, 20.1, 19.7, 20.1, 19.7, 20.1, 20.2, 20.5, 21.3, 22.4,
    21.7, 20.1, 20.9, 17.2, 19.2, 21.3, 23.0, 22.1, 21.3, 21.3,
    20.1, 18.0, 17.6, 17.2, 18.0, 18.8, 20.1, 18.4, 18.0, 17.2,
    18.8, 19.2, 20.1, 21.7, 21.6, 20.7, 20.7, 21.1, 21.6, 21.9,
    22.6, 22.4, 23.0, 23.2, 21.9, 23.4, 23.8, 22.6, 18.0, 18.4,
    16.7, 15.1, 10.1, 14.3, 12.6, 15.1, 17.6, 18.4,
    17.4, 18.3, 17.8, 19.6, 19.1, 19.6, 20.5, 21.4, 21.4, 22.7,
    24.9, 24.0, 22.3, 24.5, 24.9, 25.8, 27.1, 28.5, 24.9, 26.2,
    23.6, 25.4, 25.4, 26.7, 24.9, 25.4, 22.3, 24.9, 25.4, 24.9,
    26.7, 25.8, 26.2, 27.1, 25.8, 26.7, 26.2, 24.0, 30.2, 28.9,
    26.7, 24.5, 22.7, 24.5, 24.9, 27.6, 29.3, 27.6, 28.9, 29.8,
    27.6, 24.5, 26.7, 26.2, 25.4, 25.4, 25.8, 28.9, 28.9, 27.6,
    26.7, 28.5, 27.6, 27.6, 28.0, 28.0, 28.0, 28.5, 27.6, 26.7,
    24.9, 28.5, 29.8, 31.1, 34.2, 33.8, 32.0, 35.1, 36.4, 32.4,
    36.0, 35.1, 36.4, 41.3, 39.1, 34.2, 35.1, 33.3, 31.6, 28.9,
    28.5, 29.8, 27.1, 24.9, 26.2, 22.7, 26.2, 28.0, 26.2, 23.6,
    22.7, 19.6, 18.7, 18.3, 17.8, 19.1, 22.3, 19.6, 15.2, 16.9,
    14.3, 16.5, 14.3, 16.5, 16.9, 20.0, 21.8, 22.7, 19.6, 16.9,
    16.0, 15.2, 13.8,
    15.2, 13.8, 12.9, 10.3, 12.9, 12.1, 12.9, 12.5, 13.4, 12.9,
    11.6, 9.0, 8.1, 8.5, 9.0, 10.3, 11.6, 9.8, 10.7, 9.4,
    12.9, 15.2, 21.8, 20.0, 20.9, 19.6, 20.9, 17.8, 15.6, 15.2,
    14.7, 14.0, 14.3, 14.3, 15.2, 15.2, 16.0, 14.3, 13.8, 13.4,
    12.9, 13.4, 14.7, 12.1, 10.3, 9.8, 9.4, 8.5, 12.1, 11.2,
    10.7, 10.3, 10.3, 8.1, 7.6, 11.2, 10.3, 10.3, 10.7, 9.4,
    9.8, 10.3, 10.3, 9.6, 10.3, 10.7, 9.8, 10.3, 9.6, 10.7,
    13.4, 14.3, 12.5, 13.8, 12.1, 9.8, 8.1, 9.0, 10.7, 12.9,
    12.5, 11.6, 12.5, 12.9, 12.1, 12.5, 11.6, 11.2, 9.8, 8.5,
    9.0, 7.6, 10.3, 8.5, 7.2, 9.0, 9.8, 10.7, 11.2, 12.1,
    10.3, 9.4, 9.8, 9.0, 9.0, 10.3, 11.6, 11.6, 10.7, 9.8,
    11.6, 13.4, 14.7, 13.8, 15.2, 13.8, 13.4, 15.2, 12.5, 11.6,
    8.5, 5.9, 9.8, 9.0, 11.2, 16.5, 18.3, 21.8, 21.8, 21.4,
    20.0, 23.6, 26.7, 25.4, 26.2, 25.8, 24.9, 24.5, 22.7, 22.3,
    20.4, 22.7, 24.5, 26.7, 28.9, 30.7, 32.0, 32.0, 30.7, 31.6,
    34.2, 31.6, 28.0, 30.7, 30.2, 30.7, 31.6, 32.9, 32.9, 34.2,
    31.6, 32.0, 28.9, 25.8, 26.2, 28.0, 27.6, 28.5, 25.4, 22.7,
    24.5, 28.0, 28.9, 30.2, 31.6, 29.8, 30.2, 31.6, 28.9, 26.2,
    26.7, 25.8, 27.1, 25.8, 25.8,
]

X_TICK_YEARS = [2014, 2016, 2018, 2020, 2022, 2024, 2026]
Y_TICKS = [0, 20, 40, 60, 80, 100, 120]
X_RANGE_YEARS = [2012.449, 2027.18]
Y_RANGE = [-17.7, 128.7]

TITLE = "3년 보유 구간별 연환산 수익률"
Y_TITLE = "연환산 수익률(%)"
NAME_TQQQ = "TQQQ 3년 rolling CAGR"
NAME_QQQ = "QQQ 3년 rolling CAGR"


def to_ts(y):
    yr = int(y)
    start = pd.Timestamp(yr, 1, 1)
    end = pd.Timestamp(yr + 1, 1, 1)
    return start + (end - start) * (y - yr)


FONT = "Noto Sans CJK KR, Noto Sans, sans-serif"
TEXT = "#262626"
GRID = "#cccccc"

fig = go.Figure()
fig.add_trace(go.Scatter(
    x=[to_ts(v) for v in TQQQ_YEARS], y=TQQQ_CAGR, mode="lines", name=NAME_TQQQ,
    legendgroup="tqqq", line=dict(color="#7c3aed", width=4),
))
fig.add_trace(go.Scatter(
    x=[to_ts(v) for v in QQQ_YEARS], y=QQQ_CAGR, mode="lines", name=NAME_QQQ,
    legendgroup="qqq", line=dict(color="#0f766e", width=4),
))

fig.add_shape(type="line", xref="paper", x0=0, x1=1, yref="y", y0=0, y1=0,
              line=dict(color="#1e293b", width=2), layer="above")

fig.update_layout(
    width=1815, height=923,
    margin=dict(l=99, r=25, t=58, b=54),
    paper_bgcolor="white", plot_bgcolor="white",
    font=dict(family=FONT, color=TEXT, size=20),
    title=dict(text=TITLE, x=0.5, xref="paper", xanchor="center",
               y=1 - 37 / 923, yref="container", yanchor="middle",
               font=dict(size=26, color=TEXT, family=FONT)),
    showlegend=True,
    legend=dict(x=0.992, xanchor="right", y=0.985, yanchor="top",
                bgcolor="rgba(0,0,0,0)", font=dict(size=21, color=TEXT, family=FONT),
                itemwidth=52, traceorder="grouped", tracegroupgap=3),
    hovermode=False,
)

fig.update_xaxes(
    type="date",
    range=[to_ts(X_RANGE_YEARS[0]), to_ts(X_RANGE_YEARS[1])],
    tickmode="array",
    tickvals=[pd.Timestamp(y, 1, 1) for y in X_TICK_YEARS],
    ticktext=[str(y) for y in X_TICK_YEARS],
    showgrid=True, gridcolor=GRID, gridwidth=1.6,
    showline=True, linecolor=GRID, linewidth=2.5, mirror=True,
    ticks="", ticklabelstandoff=0,
    tickfont=dict(size=20, color=TEXT, family=FONT),
    zeroline=False,
)
fig.update_yaxes(
    range=Y_RANGE,
    tickmode="array", tickvals=Y_TICKS, ticktext=[str(v) for v in Y_TICKS],
    showgrid=True, gridcolor=GRID, gridwidth=1.6,
    showline=True, linecolor=GRID, linewidth=2.5, mirror=True,
    ticks="", ticklabelstandoff=8,
    tickfont=dict(size=20.5, color=TEXT, family=FONT),
    zeroline=False,
    title=dict(text=Y_TITLE, font=dict(size=21.5, color=TEXT, family=FONT), standoff=4),
)

fig.write_html("out.html")
